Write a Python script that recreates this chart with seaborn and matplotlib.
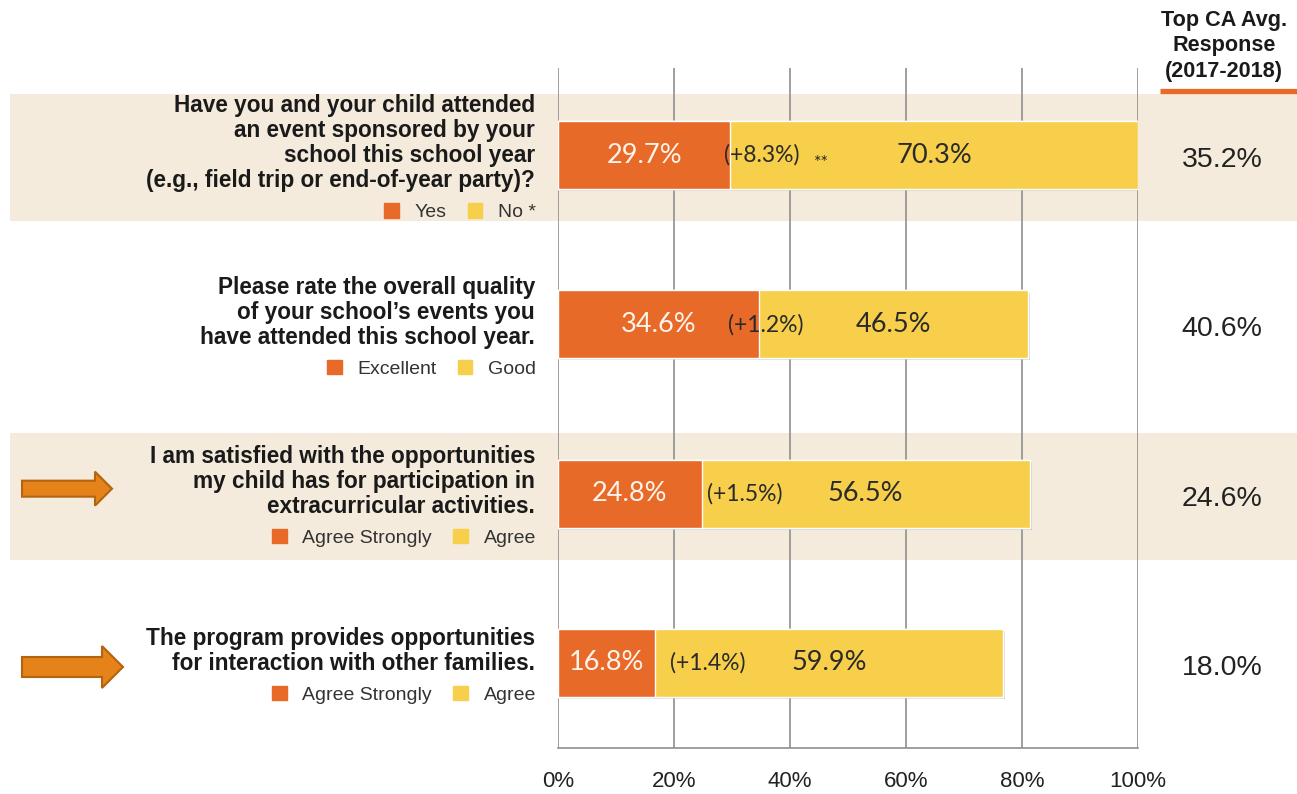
import matplotlib
matplotlib.use("Agg")
import matplotlib.pyplot as plt
import seaborn as sns
import pandas as pd
import numpy as np
from matplotlib.patches import Rectangle, FancyArrow, Patch
from matplotlib import patheffects as pe

# ---- survey data -------------------------------------------------------
questions = [
    "Have you and your child attended\nan event sponsored by your\nschool this school year\n(e.g., field trip or end-of-year party)?",
    "Please rate the overall quality\nof your school\u2019s events you\nhave attended this school year.",
    "I am satisfied with the opportunities\nmy child has for participation in\nextracurricular activities.",
    "The program provides opportunities\nfor interaction with other families.",
]
first_labels = ["Yes", "Excellent", "Agree Strongly", "Agree Strongly"]
second_labels = ["No *", "Good", "Agree", "Agree"]
first_share = [29.7, 34.6, 24.8, 16.8]
second_share = [70.3, 46.5, 56.5, 59.9]
change = [8.3, 1.2, 1.5, 1.4]
significance = ["**", "", "", ""]
ca_avg = [35.2, 40.6, 24.6, 18.0]
highlighted = [False, False, True, True]
banded = [True, False, True, False]
x_ticks = [0, 20, 40, 60, 80, 100]
header = "Top CA Avg.\nResponse\n(2017-2018)"

# ---- styling / layout --------------------------------------------------
ORANGE = "#E86A28"
YELLOW = "#F7CF4B"
BEIGE = "#F4EBDC"
GRID = "#8f8f8f"
ARROW_FC = "#E5821A"
ARROW_EC = "#B3640F"
delta_label_pos = [35.2, 35.9, 32.2, 25.9]   # x (in %) of the change labels
stars_pos = 45.5
arrow_geom = {2: dict(dy=-5, length=90, width=16, head_width=34, head_length=17),
              3: dict(dy=4, length=101, width=20, head_width=42, head_length=21)}

sns.set_theme(style="white")
plt.rcParams["font.family"] = ["Liberation Sans", "DejaVu Sans"]

W, H = 1297, 794
fig = plt.figure(figsize=(W / 100, H / 100), dpi=100)
fig.patch.set_facecolor("white")

# background canvas in pixel units (y downward)
bg = fig.add_axes([0, 0, 1, 1], zorder=0)
bg.set_xlim(0, W)
bg.set_ylim(H, 0)
bg.axis("off")

# bar axes
ax = fig.add_axes([558 / W, 1 - 748 / H, 580 / W, 680 / H], zorder=1)
ax.set_facecolor("none")

df = pd.DataFrame({
    "q": [f"Q{i + 1}" for i in range(len(questions))],
    "first": first_share,
    "total": np.add(first_share, second_share),
})
sns.barplot(data=df, x="total", y="q", orient="h", color=YELLOW, saturation=1,
            width=0.4, ax=ax, zorder=3)
sns.barplot(data=df, x="first", y="q", orient="h", color=ORANGE, saturation=1,
            width=0.4, ax=ax, zorder=4)
for p in ax.patches[:len(questions)]:
    p.set_path_effects([pe.withSimplePatchShadow(offset=(1.5, -1.5),
                                                 shadow_rgbFace="#888888", alpha=0.35),
                        pe.Normal()])

ax.set_xlim(0, 100)
ax.set_ylim(3.502, -0.514)
ax.set_xticks(x_ticks)
ax.set_xticklabels([f"{t}%" for t in x_ticks])
ax.set_yticks([])
ax.set_xlabel("")
ax.set_ylabel("")
ax.grid(axis="x", color=GRID, lw=1.2)
ax.set_axisbelow(True)
for s in ["top", "right", "left"]:
    ax.spines[s].set_visible(False)
ax.spines["bottom"].set_color(GRID)
ax.spines["bottom"].set_linewidth(1.2)
ax.tick_params(axis="x", length=6.5, width=1.2, color=GRID, pad=10,
               labelsize=16, labelcolor="#222222")

# value and change labels inside the bars
for i in range(len(questions)):
    a, b = first_share[i], second_share[i]
    ax.text(a / 2, i, f"{a:.1f}%", ha="center", va="center", fontsize=19.5,
            family="Lato", color="#FFF4EC", zorder=6)
    ax.text(a + b / 2, i, f"{b:.1f}%", ha="center", va="center", fontsize=19.5,
            family="Lato", color="#2a2a2a", zorder=6)
    ax.text(delta_label_pos[i], i, f"(+{change[i]:.1f}%)", ha="center", va="center",
            fontsize=16.5, family="Lato", color="#2a2a2a", zorder=6)
    if significance[i]:
        ax.text(stars_pos, i + 0.05, significance[i], ha="center", va="center",
                fontsize=13, family="Lato", color="#2a2a2a", zorder=6)


def ypx(v):
    """Bar-axis y value -> canvas pixel row."""
    return H - ax.transData.transform((0, v))[1]


LINE = 25.5
for i, q in enumerate(questions):
    cy = ypx(i)
    if banded[i]:
        y0, y1 = ypx(i - 0.36), ypx(i + 0.39)
        bg.add_patch(Rectangle((10, y0), W - 10, y1 - y0, color=BEIGE, lw=0, zorder=0))
    n = q.count("\n") + 1
    block_c = cy - 12
    bg.text(535, block_c, q, ha="right", va="center", fontsize=16.3,
            fontweight="bold", color="#1a1a1a", linespacing=1.12, zorder=2)
    leg_y = block_c + (n - 1) / 2 * LINE + 31
    leg = fig.legend(handles=[Patch(color=ORANGE), Patch(color=YELLOW)],
                     labels=[first_labels[i], second_labels[i]],
                     loc="center right", bbox_to_anchor=(536, leg_y),
                     bbox_transform=bg.transData, ncol=2, frameon=False,
                     fontsize=14, handlelength=0.75, handleheight=0.75,
                     handletextpad=0.8, columnspacing=1.1, borderpad=0,
                     borderaxespad=0)
    for t in leg.get_texts():
        t.set_color("#333333")
    bg.text(1222, cy + 5, f"{ca_avg[i]:.1f}%", ha="center", va="center",
            fontsize=20.5, color="#222222", zorder=2)
    if highlighted[i]:
        g = arrow_geom[i]
        bg.add_patch(FancyArrow(22, cy + g["dy"], g["length"], 0, width=g["width"],
                                head_width=g["head_width"], head_length=g["head_length"],
                                length_includes_head=True, fc=ARROW_FC, ec=ARROW_EC,
                                lw=1.5, zorder=2))

# right column header
bg.text(1224, 46, header, ha="center", va="center", fontsize=15.6,
        fontweight="bold", color="#1a1a1a", linespacing=1.3, zorder=2)
bg.plot([1160, W], [91, 91], color=ORANGE, lw=3.8, solid_capstyle="butt", zorder=2)

fig.savefig("out.png", dpi=100, facecolor="white")
